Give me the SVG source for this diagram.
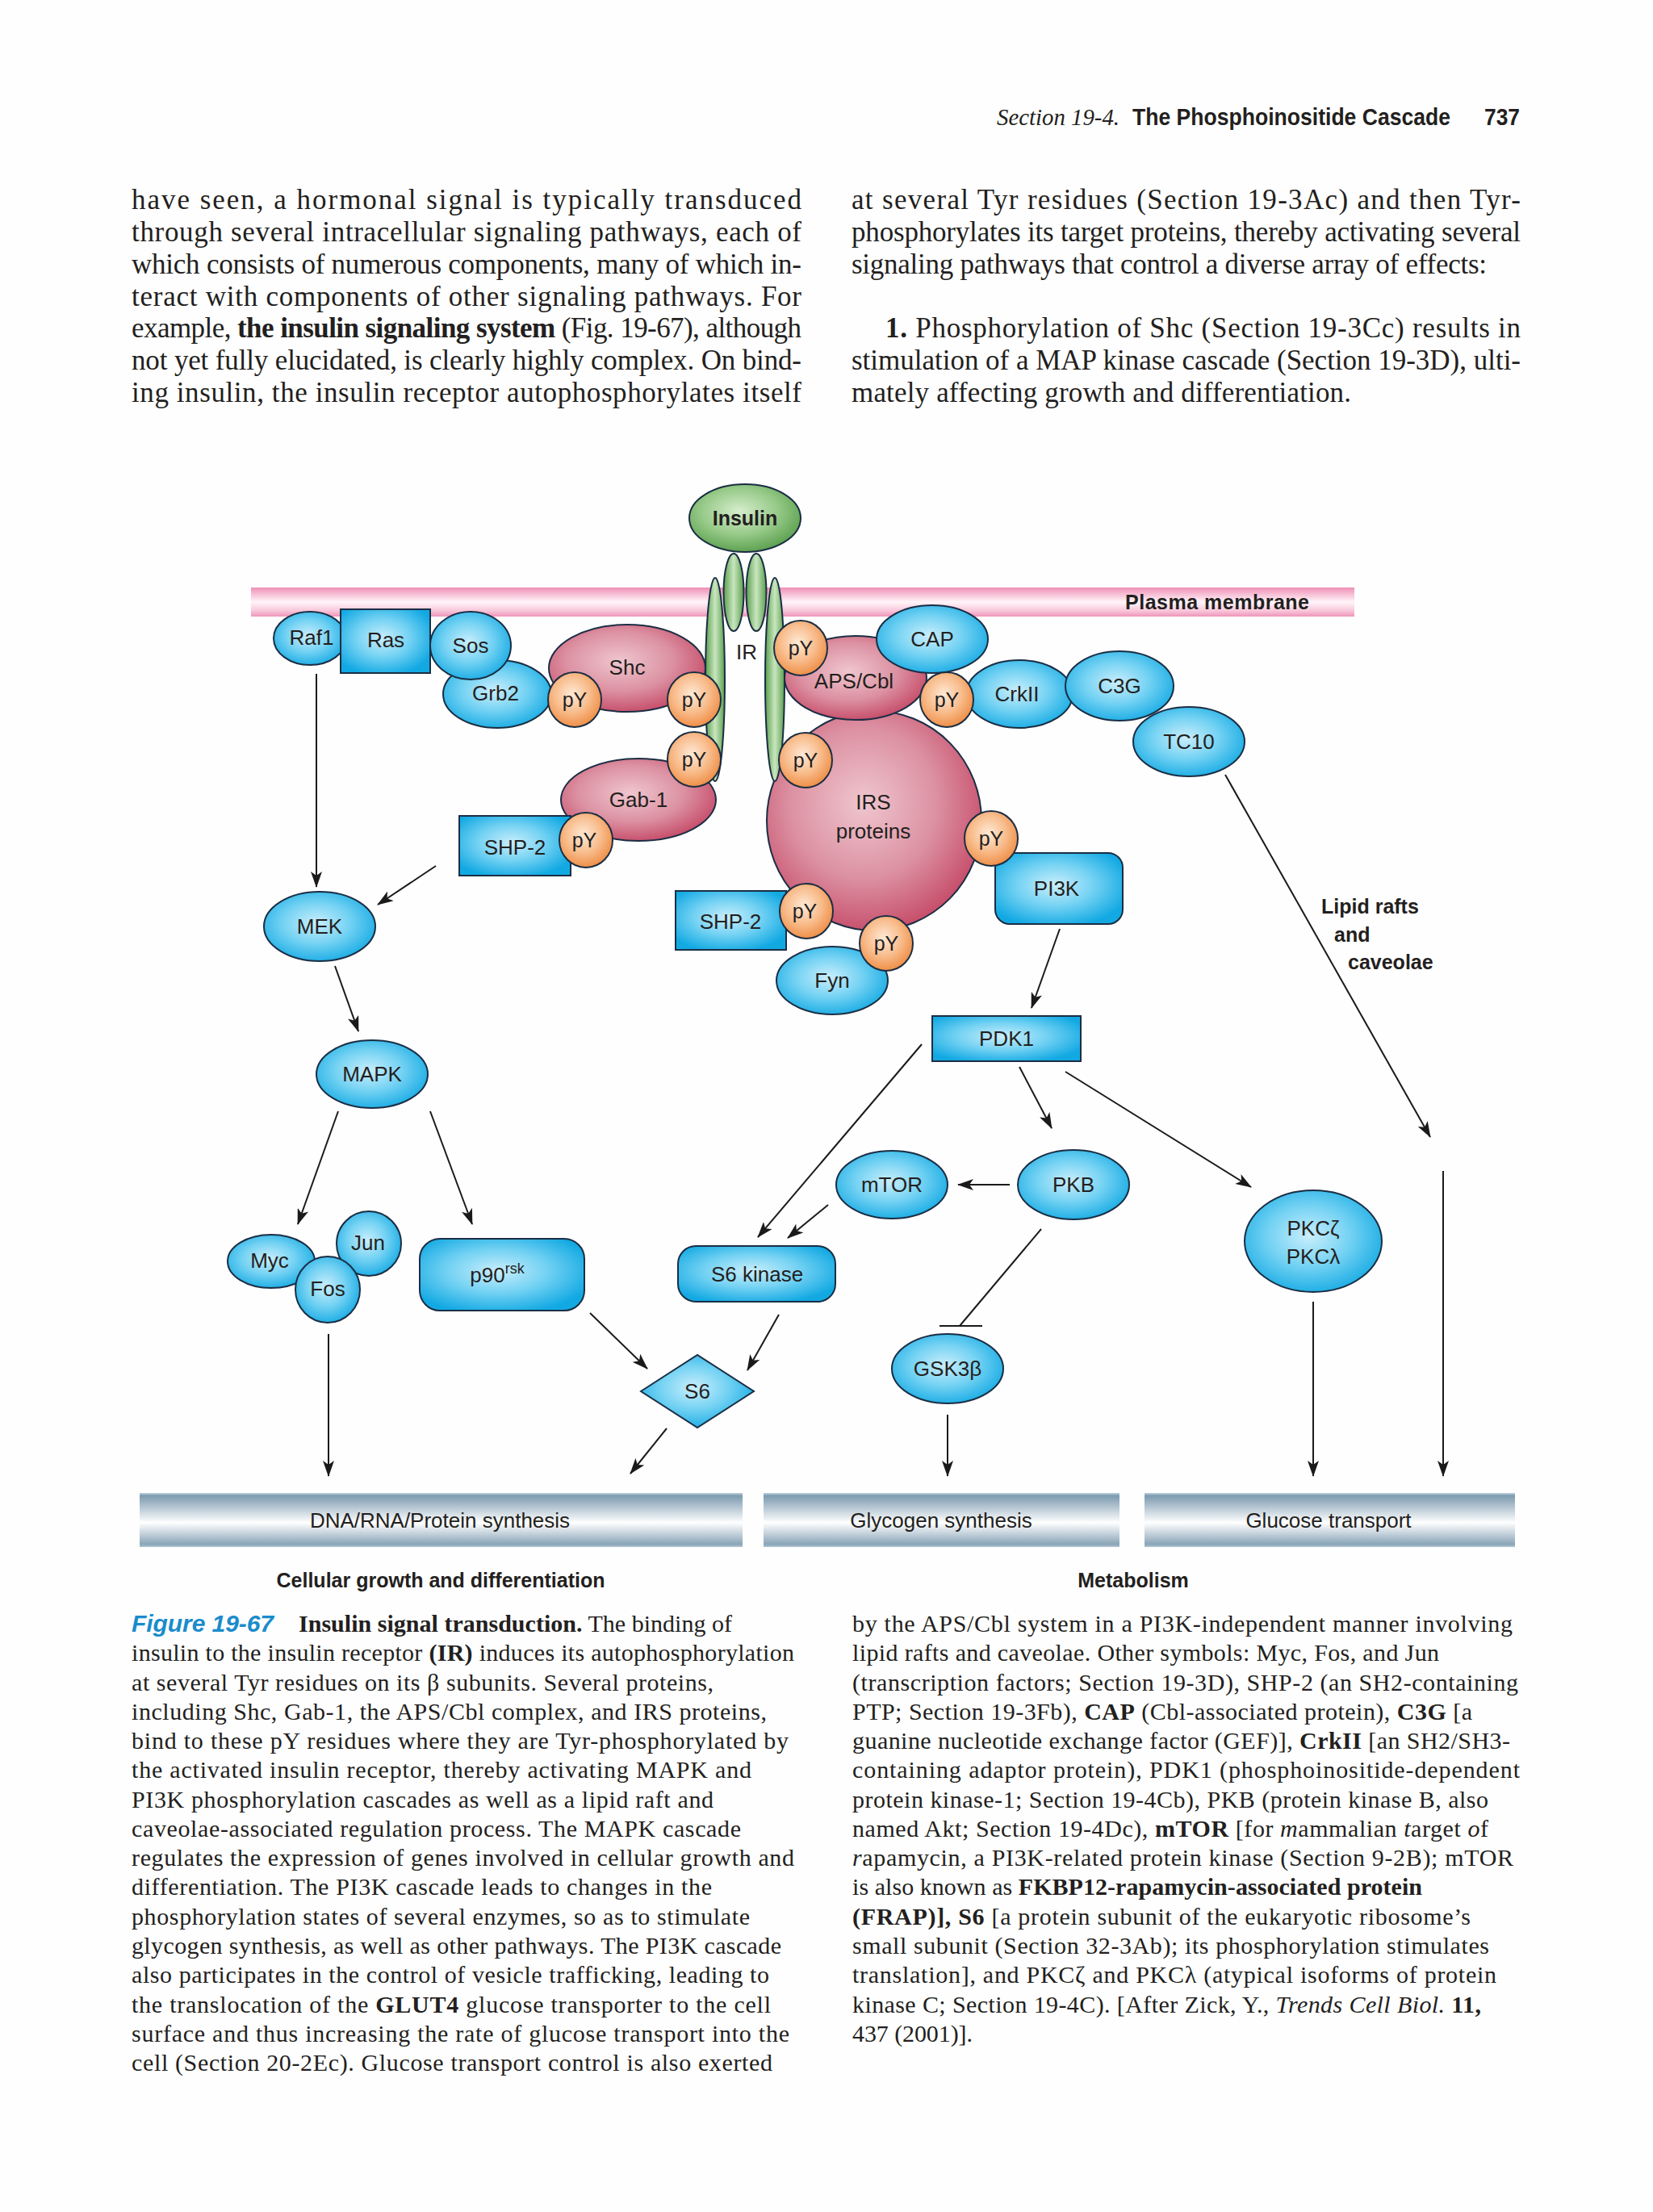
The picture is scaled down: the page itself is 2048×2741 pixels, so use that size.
<svg xmlns="http://www.w3.org/2000/svg" width="2048" height="2741" viewBox="0 0 2048 2741">
<defs>
<style>
.blue{fill:url(#gBlue);stroke:#1b2e44;stroke-width:2}
.pink{fill:url(#gPink);stroke:#1b2e44;stroke-width:2}
.orange{fill:url(#gOrange);stroke:#1b2e44;stroke-width:2}
.green{fill:url(#gGreen);stroke:#1b2e44;stroke-width:2}
.arm{fill:url(#gArm);stroke:#1b2e44;stroke-width:2}
.bar{fill:url(#gBar)}
.lb{font-family:"Liberation Sans",Arial,sans-serif;font-size:26px;fill:#231f20;text-anchor:middle}
.py{font-family:"Liberation Sans",Arial,sans-serif;font-size:25px;fill:#231f20;text-anchor:middle}
.bl{font-family:"Liberation Sans",Arial,sans-serif;font-size:25px;font-weight:bold;fill:#231f20}
.hd{font-family:"Liberation Sans",Arial,sans-serif;font-size:29px;font-weight:bold;fill:#231f20}
.body{font-family:"Liberation Serif","Times New Roman",serif;font-size:35px;fill:#231f20}
.cap{font-family:"Liberation Serif","Times New Roman",serif;font-size:30px;fill:#231f20}
.b{font-weight:bold}
.i{font-style:italic}
.conn line,.conn path{stroke:#1a1a1a;stroke-width:2;fill:none}
</style>
<radialGradient id="gBlue" cx="0.47" cy="0.45" r="0.6">
<stop offset="0" stop-color="#c9eefc"/>
<stop offset="0.5" stop-color="#74d2f3"/>
<stop offset="1" stop-color="#12a9e3"/>
</radialGradient>
<radialGradient id="gPink" cx="0.45" cy="0.42" r="0.62">
<stop offset="0" stop-color="#efc6ce"/>
<stop offset="0.55" stop-color="#dc91a2"/>
<stop offset="1" stop-color="#c44765"/>
</radialGradient>
<radialGradient id="gOrange" cx="0.45" cy="0.4" r="0.62">
<stop offset="0" stop-color="#fee9d6"/>
<stop offset="0.55" stop-color="#f8bb8a"/>
<stop offset="1" stop-color="#ee8c43"/>
</radialGradient>
<radialGradient id="gGreen" cx="0.45" cy="0.4" r="0.62">
<stop offset="0" stop-color="#d6edcd"/>
<stop offset="0.55" stop-color="#97ca89"/>
<stop offset="1" stop-color="#5a9f4d"/>
</radialGradient>
<linearGradient id="gArm" x1="0" y1="0" x2="1" y2="0">
<stop offset="0" stop-color="#5a9f4d"/>
<stop offset="0.5" stop-color="#c9e6bf"/>
<stop offset="1" stop-color="#5a9f4d"/>
</linearGradient>
<linearGradient id="gMem" x1="0" y1="0" x2="0" y2="1">
<stop offset="0" stop-color="#ee8fb6"/>
<stop offset="0.22" stop-color="#f6bcd3"/>
<stop offset="0.5" stop-color="#fff5f9"/>
<stop offset="0.8" stop-color="#f8c6da"/>
<stop offset="1" stop-color="#ef95ba"/>
</linearGradient>
<linearGradient id="gBar" x1="0" y1="0" x2="0" y2="1">
<stop offset="0" stop-color="#c3d4de"/>
<stop offset="0.05" stop-color="#7d9bb0"/>
<stop offset="0.55" stop-color="#ffffff"/>
<stop offset="0.95" stop-color="#8aa5b7"/>
<stop offset="1" stop-color="#b3c6d2"/>
</linearGradient>
<marker id="arr" markerUnits="userSpaceOnUse" markerWidth="20" markerHeight="14" refX="19" refY="7" orient="auto">
<path d="M0,0 L20,7 L0,14 L5,7 z" fill="#1a1a1a"/>
</marker>
</defs>

<rect x="0" y="0" width="2048" height="2741" fill="#fefefe"/>

<!-- header -->
<g id="header">
<text x="1235" y="155" font-family="'Liberation Serif','Times New Roman',serif" font-style="italic" font-size="30" fill="#231f20" textLength="152" lengthAdjust="spacingAndGlyphs">Section 19-4.</text>
<text class="hd" x="1403" y="155" textLength="394" lengthAdjust="spacingAndGlyphs">The Phosphoinositide Cascade</text>
<text class="hd" x="1839" y="155" textLength="44" lengthAdjust="spacingAndGlyphs">737</text>
</g>

<!-- body text -->
<g id="bodytext">
<text class="body" x="163" y="259" textLength="830">have seen, a hormonal signal is typically transduced</text>
<text class="body" x="163" y="299" textLength="830">through several intracellular signaling pathways, each of</text>
<text class="body" x="163" y="339" textLength="830">which consists of numerous components, many of which in-</text>
<text class="body" x="163" y="379" textLength="830">teract with components of other signaling pathways. For</text>
<text class="body" x="163" y="418" textLength="830">example, <tspan class="b">the insulin signaling system</tspan> (Fig. 19-67), although</text>
<text class="body" x="163" y="458" textLength="830">not yet fully elucidated, is clearly highly complex. On bind-</text>
<text class="body" x="163" y="498" textLength="830">ing insulin, the insulin receptor autophosphorylates itself</text>
<text class="body" x="1055" y="259" textLength="829">at several Tyr residues (Section 19-3Ac) and then Tyr-</text>
<text class="body" x="1055" y="299" textLength="829">phosphorylates its target proteins, thereby activating several</text>
<text class="body" x="1055" y="339" textLength="787">signaling pathways that control a diverse array of effects:</text>
<text class="body" x="1097" y="418" textLength="787"><tspan class="b">1.</tspan> Phosphorylation of Shc (Section 19-3Cc) results in</text>
<text class="body" x="1055" y="458" textLength="829">stimulation of a MAP kinase cascade (Section 19-3D), ulti-</text>
<text class="body" x="1055" y="498" textLength="619">mately affecting growth and differentiation.</text>
</g>

<!-- membrane -->
<g id="membrane">
<rect x="311" y="728" width="1367" height="36" fill="url(#gMem)"/>
<text class="bl" x="1394" y="755" textLength="228">Plasma membrane</text>
</g>

<!-- pink complexes -->
<g id="shc"><ellipse class="pink" cx="777" cy="828" rx="97" ry="54"/><text class="lb" x="777" y="836">Shc</text></g>
<g id="gab1"><ellipse class="pink" cx="791" cy="991" rx="96" ry="51"/><text class="lb" x="791" y="1000">Gab-1</text></g>
<g id="irs"><ellipse class="pink" cx="1083" cy="1017" rx="133" ry="136"/><text class="lb" x="1082" y="1003">IRS</text><text class="lb" x="1082" y="1039">proteins</text></g>
<g id="apscbl"><ellipse class="pink" cx="1060" cy="840" rx="88" ry="52"/><text class="lb" x="1058" y="853">APS/Cbl</text></g>

<!-- insulin receptor -->
<g id="ir">
<ellipse class="arm" cx="886" cy="842" rx="12" ry="126"/>
<ellipse class="arm" cx="960" cy="842" rx="12" ry="126"/>
<ellipse class="arm" cx="909" cy="734" rx="12.5" ry="48"/>
<ellipse class="arm" cx="937" cy="734" rx="12.5" ry="48"/>
<text class="lb" x="925" y="817">IR</text>
</g>
<g id="insulin"><ellipse class="green" cx="923" cy="642" rx="69" ry="42"/><text class="bl" x="923" y="651" text-anchor="middle">Insulin</text></g>

<!-- blue upper nodes -->
<g id="raf1"><ellipse class="blue" cx="384" cy="791" rx="45" ry="33"/><text class="lb" x="386" y="799" font-size="24">Raf1</text></g>
<g id="ras"><rect class="blue" x="422" y="755" width="111" height="79"/><text class="lb" x="478" y="802">Ras</text></g>
<g id="grb2"><ellipse class="blue" cx="616" cy="860" rx="67" ry="42"/><text class="lb" x="614" y="868">Grb2</text></g>
<g id="sos"><ellipse class="blue" cx="583" cy="800" rx="50" ry="42"/><text class="lb" x="583" y="809">Sos</text></g>
<g id="shp2a"><rect class="blue" x="569" y="1011" width="138" height="74"/><text class="lb" x="638" y="1059">SHP-2</text></g>
<g id="shp2b"><rect class="blue" x="837" y="1104" width="137" height="73"/><text class="lb" x="905" y="1151">SHP-2</text></g>
<g id="cap"><ellipse class="blue" cx="1155" cy="792" rx="69" ry="42"/><text class="lb" x="1155" y="801">CAP</text></g>
<g id="crkii"><ellipse class="blue" cx="1263" cy="860" rx="66" ry="42"/><text class="lb" x="1260" y="869">CrkII</text></g>
<g id="c3g"><ellipse class="blue" cx="1387" cy="850" rx="67" ry="43"/><text class="lb" x="1387" y="859">C3G</text></g>
<g id="tc10"><ellipse class="blue" cx="1473" cy="919" rx="69" ry="43"/><text class="lb" x="1473" y="928">TC10</text></g>
<g id="fyn"><ellipse class="blue" cx="1031" cy="1215" rx="69" ry="42"/><text class="lb" x="1031" y="1224">Fyn</text></g>
<g id="pi3k"><rect class="blue" x="1233" y="1057" width="158" height="88" rx="18"/><text class="lb" x="1309" y="1110">PI3K</text></g>

<!-- phosphotyrosines -->
<g id="py1"><ellipse class="orange" cx="712" cy="867" rx="33" ry="34"/><text class="py" x="712" y="876">pY</text></g>
<g id="py2"><ellipse class="orange" cx="860" cy="867" rx="33" ry="34"/><text class="py" x="860" y="876">pY</text></g>
<g id="py3"><ellipse class="orange" cx="860" cy="941" rx="33" ry="34"/><text class="py" x="860" y="950">pY</text></g>
<g id="py4"><ellipse class="orange" cx="726" cy="1041" rx="33" ry="34"/><text class="py" x="724" y="1050">pY</text></g>
<g id="py5"><ellipse class="orange" cx="992" cy="803" rx="33" ry="34"/><text class="py" x="992" y="812">pY</text></g>
<g id="py6"><ellipse class="orange" cx="998" cy="942" rx="33" ry="34"/><text class="py" x="998" y="951">pY</text></g>
<g id="py7"><ellipse class="orange" cx="1173" cy="867" rx="33" ry="34"/><text class="py" x="1173" y="876">pY</text></g>
<g id="py8"><ellipse class="orange" cx="1228" cy="1039" rx="33" ry="34"/><text class="py" x="1228" y="1048">pY</text></g>
<g id="py9"><ellipse class="orange" cx="999" cy="1129" rx="33" ry="34"/><text class="py" x="997" y="1138">pY</text></g>
<g id="py10"><ellipse class="orange" cx="1098" cy="1169" rx="33" ry="34"/><text class="py" x="1098" y="1178">pY</text></g>

<!-- lower nodes -->
<g id="mek"><ellipse class="blue" cx="396" cy="1148" rx="69" ry="43"/><text class="lb" x="396" y="1157">MEK</text></g>
<g id="mapk"><ellipse class="blue" cx="461" cy="1331" rx="69" ry="42"/><text class="lb" x="461" y="1340">MAPK</text></g>
<g id="myc"><ellipse class="blue" cx="336" cy="1563" rx="54" ry="33"/><text class="lb" x="334" y="1571">Myc</text></g>
<g id="jun"><ellipse class="blue" cx="457" cy="1541" rx="40" ry="40"/><text class="lb" x="456" y="1549">Jun</text></g>
<g id="fos"><ellipse class="blue" cx="406" cy="1598" rx="40" ry="41"/><text class="lb" x="406" y="1606">Fos</text></g>
<g id="p90rsk"><rect class="blue" x="520" y="1535" width="204" height="89" rx="25"/><text class="lb" x="616" y="1589">p90<tspan dy="-11" font-size="18">rsk</tspan></text></g>
<g id="s6kinase"><rect class="blue" x="840" y="1544" width="195" height="69" rx="22"/><text class="lb" x="938" y="1588">S6 kinase</text></g>
<g id="s6"><polygon class="blue" points="794,1724 864,1679 934,1724 864,1769"/><text class="lb" x="864" y="1733">S6</text></g>
<g id="pdk1"><rect class="blue" x="1155" y="1259" width="184" height="56"/><text class="lb" x="1247" y="1296">PDK1</text></g>
<g id="mtor"><ellipse class="blue" cx="1105" cy="1468" rx="69" ry="42"/><text class="lb" x="1105" y="1477">mTOR</text></g>
<g id="pkb"><ellipse class="blue" cx="1330" cy="1468" rx="69" ry="43"/><text class="lb" x="1330" y="1477">PKB</text></g>
<g id="gsk3b"><ellipse class="blue" cx="1174" cy="1696" rx="69" ry="43"/><text class="lb" x="1174" y="1705">GSK3β</text></g>
<g id="pkc"><ellipse class="blue" cx="1627" cy="1538" rx="85" ry="63"/><text class="lb" x="1627" y="1531">PKCζ</text><text class="lb" x="1627" y="1566">PKCλ</text></g>

<g id="lipidlabel">
<text class="bl" x="1637" y="1132">Lipid rafts</text>
<text class="bl" x="1653" y="1167">and</text>
<text class="bl" x="1670" y="1201">caveolae</text>
</g>

<!-- outcome bars -->
<g id="dnabar"><rect class="bar" x="173" y="1850" width="747" height="67"/><text class="lb" x="545" y="1893">DNA/RNA/Protein synthesis</text></g>
<g id="glycogenbar"><rect class="bar" x="946" y="1850" width="441" height="67"/><text class="lb" x="1166" y="1893">Glycogen synthesis</text></g>
<g id="glucosebar"><rect class="bar" x="1418" y="1850" width="459" height="67"/><text class="lb" x="1646" y="1893">Glucose transport</text></g>
<g id="categories">
<text class="bl" x="546" y="1967" text-anchor="middle">Cellular growth and differentiation</text>
<text class="bl" x="1404" y="1967" text-anchor="middle">Metabolism</text>
</g>

<!-- connectors -->
<g id="connectors" class="conn">
<line x1="392" y1="835" x2="392" y2="1099" marker-end="url(#arr)"/>
<line x1="540" y1="1073" x2="468" y2="1121" marker-end="url(#arr)"/>
<line x1="415" y1="1197" x2="444" y2="1278" marker-end="url(#arr)"/>
<line x1="419" y1="1377" x2="369" y2="1517" marker-end="url(#arr)"/>
<line x1="533" y1="1377" x2="585" y2="1517" marker-end="url(#arr)"/>
<line x1="407" y1="1653" x2="407" y2="1829" marker-end="url(#arr)"/>
<line x1="731" y1="1627" x2="802" y2="1696" marker-end="url(#arr)"/>
<line x1="965" y1="1629" x2="926" y2="1698" marker-end="url(#arr)"/>
<line x1="826" y1="1770" x2="781" y2="1826" marker-end="url(#arr)"/>
<line x1="1142" y1="1294" x2="939" y2="1533" marker-end="url(#arr)"/>
<line x1="1026" y1="1493" x2="976" y2="1534" marker-end="url(#arr)"/>
<line x1="1313" y1="1151" x2="1278" y2="1249" marker-end="url(#arr)"/>
<line x1="1263" y1="1322" x2="1303" y2="1398" marker-end="url(#arr)"/>
<line x1="1320" y1="1328" x2="1550" y2="1471" marker-end="url(#arr)"/>
<line x1="1251" y1="1468" x2="1187" y2="1468" marker-end="url(#arr)"/>
<line x1="1290" y1="1523" x2="1189" y2="1643"/>
<line x1="1164" y1="1643" x2="1217" y2="1643"/>
<line x1="1174" y1="1753" x2="1174" y2="1829" marker-end="url(#arr)"/>
<line x1="1627" y1="1613" x2="1627" y2="1829" marker-end="url(#arr)"/>
<line x1="1518" y1="960" x2="1772" y2="1409" marker-end="url(#arr)"/>
<line x1="1788" y1="1451" x2="1788" y2="1829" marker-end="url(#arr)"/>
</g>

<!-- caption -->
<g id="caption">
<text x="163" y="2022" font-family="'Liberation Sans',Arial,sans-serif" font-weight="bold" font-style="italic" font-size="30" fill="#1a8ccc" textLength="176">Figure 19-67</text>
<text class="cap" x="370" y="2022" textLength="537"><tspan class="b">Insulin signal transduction.</tspan> The binding of</text>
<text class="cap" x="163" y="2058" textLength="821">insulin to the insulin receptor <tspan class="b">(IR)</tspan> induces its autophosphorylation</text>
<text class="cap" x="163" y="2095" textLength="721">at several Tyr residues on its β subunits. Several proteins,</text>
<text class="cap" x="163" y="2131" textLength="787">including Shc, Gab-1, the APS/Cbl complex, and IRS proteins,</text>
<text class="cap" x="163" y="2167" textLength="814">bind to these pY residues where they are Tyr-phosphorylated by</text>
<text class="cap" x="163" y="2203" textLength="768">the activated insulin receptor, thereby activating MAPK and</text>
<text class="cap" x="163" y="2240" textLength="721">PI3K phosphorylation cascades as well as a lipid raft and</text>
<text class="cap" x="163" y="2276" textLength="755">caveolae-associated regulation process. The MAPK cascade</text>
<text class="cap" x="163" y="2312" textLength="821">regulates the expression of genes involved in cellular growth and</text>
<text class="cap" x="163" y="2348" textLength="719">differentiation. The PI3K cascade leads to changes in the</text>
<text class="cap" x="163" y="2385" textLength="766">phosphorylation states of several enzymes, so as to stimulate</text>
<text class="cap" x="163" y="2421" textLength="805">glycogen synthesis, as well as other pathways. The PI3K cascade</text>
<text class="cap" x="163" y="2457" textLength="790">also participates in the control of vesicle trafficking, leading to</text>
<text class="cap" x="163" y="2494" textLength="792">the translocation of the <tspan class="b">GLUT4</tspan> glucose transporter to the cell</text>
<text class="cap" x="163" y="2530" textLength="815">surface and thus increasing the rate of glucose transport into the</text>
<text class="cap" x="163" y="2566" textLength="794">cell (Section 20-2Ec). Glucose transport control is also exerted</text>

<text class="cap" x="1056" y="2022" textLength="818">by the APS/Cbl system in a PI3K-independent manner involving</text>
<text class="cap" x="1056" y="2058" textLength="727">lipid rafts and caveolae. Other symbols: Myc, Fos, and Jun</text>
<text class="cap" x="1056" y="2095" textLength="825">(transcription factors; Section 19-3D), SHP-2 (an SH2-containing</text>
<text class="cap" x="1056" y="2131" textLength="768">PTP; Section 19-3Fb), <tspan class="b">CAP</tspan> (Cbl-associated protein), <tspan class="b">C3G</tspan> [a</text>
<text class="cap" x="1056" y="2167" textLength="815">guanine nucleotide exchange factor (GEF)], <tspan class="b">CrkII</tspan> [an SH2/SH3-</text>
<text class="cap" x="1056" y="2203" textLength="827">containing adaptor protein), PDK1 (phosphoinositide-dependent</text>
<text class="cap" x="1056" y="2240" textLength="788">protein kinase-1; Section 19-4Cb), PKB (protein kinase B, also</text>
<text class="cap" x="1056" y="2276" textLength="788">named Akt; Section 19-4Dc), <tspan class="b">mTOR</tspan> [for <tspan class="i">m</tspan>ammalian <tspan class="i">t</tspan>arget <tspan class="i">o</tspan>f</text>
<text class="cap" x="1056" y="2312" textLength="819"><tspan class="i">r</tspan>apamycin, a PI3K-related protein kinase (Section 9-2B); mTOR</text>
<text class="cap" x="1056" y="2348" textLength="706">is also known as <tspan class="b">FKBP12-rapamycin-associated protein</tspan></text>
<text class="cap" x="1056" y="2385" textLength="766"><tspan class="b">(FRAP)], S6</tspan> [a protein subunit of the eukaryotic ribosome’s</text>
<text class="cap" x="1056" y="2421" textLength="789">small subunit (Section 32-3Ab); its phosphorylation stimulates</text>
<text class="cap" x="1056" y="2457" textLength="798">translation], and PKCζ and PKCλ (atypical isoforms of protein</text>
<text class="cap" x="1056" y="2494" textLength="779">kinase C; Section 19-4C). [After Zick, Y., <tspan class="i">Trends Cell Biol.</tspan> <tspan class="b">11,</tspan></text>
<text class="cap" x="1056" y="2530" textLength="149">437 (2001)].</text>
</g>
</svg>
